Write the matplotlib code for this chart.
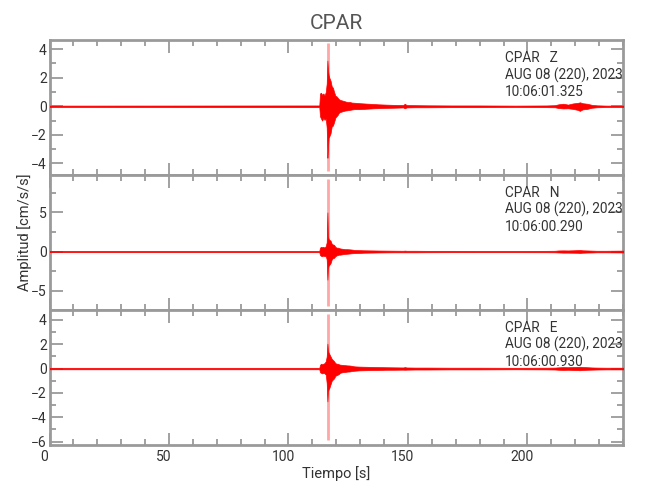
import matplotlib
matplotlib.use("Agg")
import matplotlib.pyplot as plt
from matplotlib.ticker import MultipleLocator
import matplotlib.transforms as mtransforms

plt.rcParams['font.family'] = ['Roboto', 'DejaVu Sans']

# envelope knots (s), shared by the three components
t = [0, 112.9, 113.2, 113.6, 114.1, 114.6, 115.1, 115.6, 116.0, 116.3, 116.5,
     116.8, 117.1, 117.6, 118.1, 118.6, 119.1, 119.6, 120.1, 120.6, 121.1,
     121.6, 122.6, 123.6, 124.6, 125.6, 126.6, 127.6, 129.6, 131.6, 133.6,
     135.6, 137.6, 140.6, 144.0, 148.0, 148.7, 149.4, 153, 158, 168, 180,
     195, 208, 211.5, 213, 215, 217, 219, 221, 222, 223, 225, 227, 229, 233,
     240.2]

# Z component
z_up = [0.05, 0.06, 0.9, 0.95, 0.8, 0.9, 0.75, 1.0, 1.6, 3.2, 2.6,
        2.2, 2.0, 1.8, 1.4, 1.3, 1.0, 0.75, 0.7, 0.6, 0.5,
        0.45, 0.4, 0.35, 0.3, 0.3, 0.26, 0.25, 0.22, 0.2, 0.18,
        0.16, 0.14, 0.12, 0.1, 0.09, 0.18, 0.09, 0.08, 0.07, 0.06, 0.06,
        0.05, 0.06, 0.08, 0.14, 0.18, 0.12, 0.2, 0.24, 0.28, 0.22, 0.18, 0.1, 0.07, 0.05,
        0.05]
z_lo = [-0.05, -0.06, -0.7, -0.85, -1.0, -0.8, -0.95, -0.85, -1.5, -3.6, -3.0,
        -2.2, -2.1, -1.9, -1.4, -1.35, -1.1, -0.8, -0.7, -0.6, -0.45,
        -0.4, -0.35, -0.3, -0.28, -0.25, -0.22, -0.2, -0.2, -0.18, -0.16,
        -0.14, -0.13, -0.11, -0.1, -0.08, -0.14, -0.08, -0.07, -0.07, -0.06, -0.06,
        -0.05, -0.06, -0.07, -0.12, -0.15, -0.14, -0.18, -0.25, -0.32, -0.22, -0.18, -0.1, -0.07, -0.05,
        -0.05]

# N component
n_up = [0.08, 0.08, 0.5, 0.6, 0.55, 0.6, 0.5, 0.7, 1.2, 5.0, 2.0,
        1.6, 1.5, 1.4, 1.0, 0.9, 0.85, 0.6, 0.5, 0.5, 0.45,
        0.4, 0.35, 0.3, 0.3, 0.28, 0.25, 0.2, 0.18, 0.16, 0.15,
        0.14, 0.13, 0.12, 0.11, 0.1, 0.12, 0.1, 0.1, 0.09, 0.09, 0.08,
        0.08, 0.09, 0.1, 0.14, 0.15, 0.14, 0.16, 0.18, 0.2, 0.16, 0.14, 0.12, 0.1, 0.1,
        0.12]
n_lo = [-0.08, -0.08, -0.45, -0.55, -0.6, -0.5, -0.6, -0.6, -1.0, -3.6, -2.2,
        -1.8, -1.7, -1.5, -1.0, -0.85, -0.8, -0.6, -0.5, -0.45, -0.4,
        -0.4, -0.35, -0.3, -0.28, -0.25, -0.22, -0.2, -0.18, -0.15, -0.14,
        -0.13, -0.12, -0.11, -0.1, -0.1, -0.1, -0.1, -0.1, -0.09, -0.08, -0.08,
        -0.08, -0.09, -0.1, -0.12, -0.14, -0.14, -0.15, -0.16, -0.18, -0.15, -0.13, -0.12, -0.1, -0.1,
        -0.12]

# E component
e_up = [0.06, 0.06, 0.3, 0.4, 0.35, 0.4, 0.45, 0.6, 1.0, 2.05, 1.5,
        1.3, 1.2, 1.0, 0.8, 0.7, 0.6, 0.45, 0.4, 0.4, 0.35,
        0.32, 0.3, 0.28, 0.26, 0.25, 0.22, 0.18, 0.16, 0.15, 0.14,
        0.13, 0.12, 0.11, 0.1, 0.09, 0.12, 0.09, 0.08, 0.08, 0.07, 0.07,
        0.06, 0.07, 0.08, 0.1, 0.12, 0.11, 0.13, 0.14, 0.15, 0.13, 0.11, 0.09, 0.08, 0.07,
        0.07]
e_lo = [-0.06, -0.06, -0.3, -0.35, -0.4, -0.35, -0.4, -0.5, -1.2, -2.7, -1.9,
        -1.7, -1.6, -1.3, -1.0, -0.9, -0.8, -0.6, -0.55, -0.5, -0.45,
        -0.35, -0.3, -0.28, -0.25, -0.24, -0.2, -0.18, -0.15, -0.14, -0.13,
        -0.12, -0.12, -0.1, -0.1, -0.09, -0.1, -0.09, -0.08, -0.08, -0.07, -0.07,
        -0.06, -0.07, -0.08, -0.1, -0.11, -0.1, -0.12, -0.13, -0.14, -0.12, -0.1, -0.09, -0.08, -0.07,
        -0.07]

# single-sample peak (time, max, min) per component
spike_t = 116.4
spike_max = [4.4, 9.3, 4.5]
spike_min = [-4.5, -7.0, -5.9]

components = ['Z', 'N', 'E']
start_times = ['10:06:01.325', '10:06:00.290', '10:06:00.930']
ylims = [(-4.8, 4.64), (-7.45, 9.8), (-6.26, 4.83)]
major_steps = [2, 5, 2]
minor_steps = [1, 2.5, 1]
uppers = [z_up, n_up, e_up]
lowers = [z_lo, n_lo, e_lo]

grey = '#9a9a9a'
txt = '#333333'

fig = plt.figure(figsize=(6.5, 5), dpi=100)
axes = fig.subplots(3, 1, sharex=True)
fig.subplots_adjust(left=0.0762, right=0.9592, top=0.92, bottom=0.1106, hspace=0)

for i, ax in enumerate(axes):
    ax.fill_between(t, lowers[i], uppers[i], color='red', lw=0.5, zorder=3)
    ax.vlines(spike_t, spike_min[i], spike_max[i], color='red', alpha=0.35, lw=2, zorder=3)
    ax.set_xlim(0, 240.2)
    ax.set_ylim(*ylims[i])
    ax.yaxis.set_major_locator(MultipleLocator(major_steps[i]))
    ax.yaxis.set_minor_locator(MultipleLocator(minor_steps[i]))
    ax.xaxis.set_major_locator(MultipleLocator(50))
    ax.xaxis.set_minor_locator(MultipleLocator(10))
    ax.tick_params(which='both', direction='in', top=True, right=True,
                   color=grey, width=1.3, labelcolor=txt, labelsize=10, pad=2)
    ax.tick_params(which='major', length=9)
    ax.tick_params(which='minor', length=4.5)
    for s in ax.spines.values():
        s.set_color(grey)
        s.set_linewidth(2)
    ax.text(0.793, 0.92, 'CPAR   %s\nAUG 08 (220), 2023\n%s' % (components[i], start_times[i]),
            transform=ax.transAxes, va='top', ha='left', fontsize=9.8,
            color=txt, linespacing=1.2)

axes[-1].tick_params(axis='x', pad=4)
axes[0].set_title('CPAR', fontsize=15, color='#555555', pad=8)
axes[-1].set_xlabel('Tiempo [s]', fontsize=10.5, color=txt, labelpad=1)
fig.text(0.038, 0.535, 'Amplitud [cm/s/s]', rotation=90, va='center', ha='center',
         fontsize=10.5, color=txt)

# tick labels in the reference sit a few pixels left of their ticks
fig.canvas.draw()
offset = mtransforms.ScaledTranslation(-5 / 100, 0, fig.dpi_scale_trans)
for lab in axes[-1].get_xticklabels():
    lab.set_transform(lab.get_transform() + offset)

fig.savefig('out.png', dpi=100)
